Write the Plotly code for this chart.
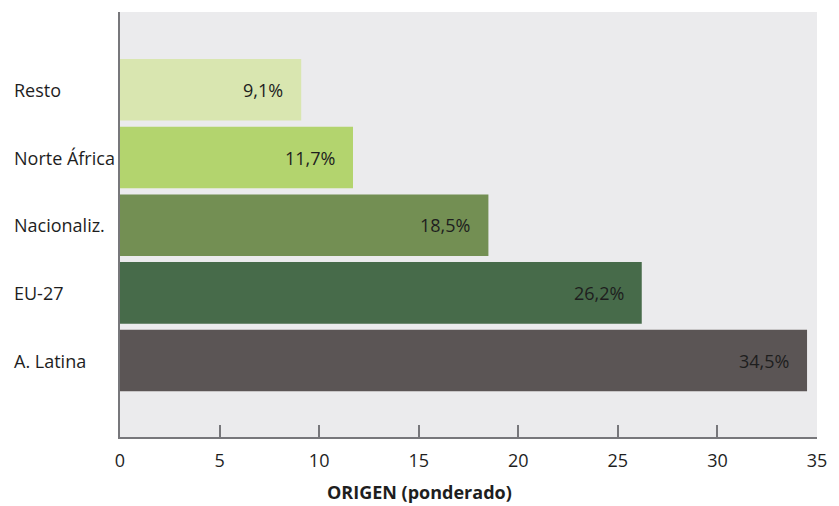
import plotly.graph_objects as go

# Data, listed bottom to top
categories = ["A. Latina", "EU-27", "Nacionaliz.", "Norte África", "Resto"]
values = [34.5, 26.2, 18.5, 11.7, 9.1]
colors = ["#5b5555", "#476b4a", "#738f53", "#b3d46e", "#d9e6b0"]
x_ticks = [0, 5, 10, 15, 20, 25, 30, 35]
x_title = "ORIGEN (ponderado)"

FONT = "Open Sans"
TEXT = "#1e1e1e"
AXIS = "#77777b"

fig = go.Figure()
fig.add_trace(go.Bar(
    x=values,
    y=categories,
    orientation="h",
    marker=dict(color=colors, line=dict(width=0)),
    width=0.91,
    hoverinfo="skip",
))

annotations = []
# value labels, right-aligned inside each bar
for cat, v in zip(categories, values):
    annotations.append(dict(
        x=v, y=cat, xref="x", yref="y",
        text=f"{v:.1f}%".replace(".", ","),
        showarrow=False, xanchor="right", yanchor="middle",
        xshift=-16, font=dict(family=FONT, size=18, color=TEXT),
    ))
# category labels, left-aligned at the figure edge
for cat in categories:
    annotations.append(dict(
        x=-0.155, y=cat, xref="paper", yref="y",
        text=cat, showarrow=False, xanchor="left", yanchor="middle",
        font=dict(family=FONT, size=18, color=TEXT),
    ))
# axis title
annotations.append(dict(
    x=0.43, y=-0.13, xref="paper", yref="paper",
    text=f"<b>{x_title}</b>", showarrow=False,
    xanchor="center", yanchor="middle",
    font=dict(family=FONT, size=18, color=TEXT),
))

fig.update_layout(
    width=839, height=506,
    margin=dict(l=120, r=19, t=12, b=69),
    paper_bgcolor="white",
    plot_bgcolor="#ebebed",
    showlegend=False,
    annotations=annotations,
    xaxis=dict(
        range=[0, 35],
        tickvals=x_ticks,
        ticktext=[str(t) for t in x_ticks],
        ticks="inside", ticklen=12, tickwidth=2, tickcolor=AXIS,
        showline=True, linecolor=AXIS, linewidth=2,
        showgrid=False, zeroline=False,
        tickfont=dict(family=FONT, size=18, color=TEXT),
        ticklabelstandoff=6,
    ),
    yaxis=dict(
        range=[-1.13, 5.15],
        showticklabels=False,
        ticks="",
        showline=True, linecolor=AXIS, linewidth=2,
        showgrid=False, zeroline=False,
    ),
)

fig.write_html("out.html")
